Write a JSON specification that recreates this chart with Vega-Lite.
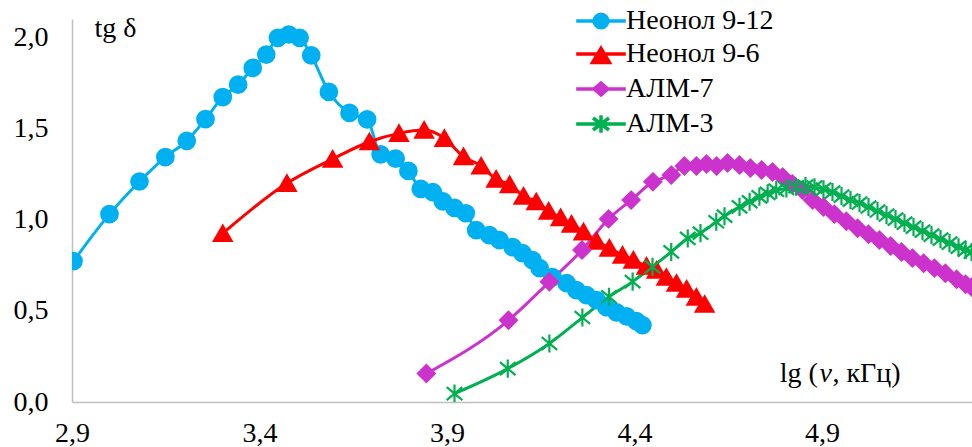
{
  "$schema": "https://vega.github.io/schema/vega-lite/v6.json",
  "width": 900,
  "height": 383,
  "autosize": {"type": "none"},
  "padding": {"left": 72, "top": 19, "right": 0, "bottom": 45},
  "background": "#ffffff",
  "config": {"view": {"stroke": null}, "font": "Liberation Serif, Times New Roman, DejaVu Serif, serif"},
  "data": {"values": [
    {"s": "Неонол 9-12", "x": 2.904, "y": 0.773},
    {"s": "Неонол 9-12", "x": 3.0, "y": 1.03},
    {"s": "Неонол 9-12", "x": 3.08, "y": 1.209},
    {"s": "Неонол 9-12", "x": 3.149, "y": 1.343},
    {"s": "Неонол 9-12", "x": 3.206, "y": 1.432},
    {"s": "Неонол 9-12", "x": 3.256, "y": 1.551},
    {"s": "Неонол 9-12", "x": 3.302, "y": 1.672},
    {"s": "Неонол 9-12", "x": 3.343, "y": 1.74},
    {"s": "Неонол 9-12", "x": 3.382, "y": 1.832},
    {"s": "Неонол 9-12", "x": 3.418, "y": 1.905},
    {"s": "Неонол 9-12", "x": 3.449, "y": 1.997},
    {"s": "Неонол 9-12", "x": 3.478, "y": 2.015},
    {"s": "Неонол 9-12", "x": 3.507, "y": 1.997},
    {"s": "Неонол 9-12", "x": 3.538, "y": 1.9},
    {"s": "Неонол 9-12", "x": 3.585, "y": 1.7},
    {"s": "Неонол 9-12", "x": 3.64, "y": 1.585},
    {"s": "Неонол 9-12", "x": 3.687, "y": 1.55},
    {"s": "Неонол 9-12", "x": 3.723, "y": 1.358},
    {"s": "Неонол 9-12", "x": 3.763, "y": 1.334},
    {"s": "Неонол 9-12", "x": 3.797, "y": 1.267},
    {"s": "Неонол 9-12", "x": 3.83, "y": 1.169},
    {"s": "Неонол 9-12", "x": 3.862, "y": 1.151},
    {"s": "Неонол 9-12", "x": 3.889, "y": 1.1},
    {"s": "Неонол 9-12", "x": 3.92, "y": 1.064},
    {"s": "Неонол 9-12", "x": 3.95, "y": 1.035},
    {"s": "Неонол 9-12", "x": 3.978, "y": 0.942},
    {"s": "Неонол 9-12", "x": 4.013, "y": 0.915},
    {"s": "Неонол 9-12", "x": 4.04, "y": 0.888},
    {"s": "Неонол 9-12", "x": 4.075, "y": 0.849},
    {"s": "Неонол 9-12", "x": 4.101, "y": 0.816},
    {"s": "Неонол 9-12", "x": 4.128, "y": 0.778},
    {"s": "Неонол 9-12", "x": 4.147, "y": 0.734},
    {"s": "Неонол 9-12", "x": 4.181, "y": 0.685},
    {"s": "Неонол 9-12", "x": 4.219, "y": 0.652},
    {"s": "Неонол 9-12", "x": 4.245, "y": 0.613},
    {"s": "Неонол 9-12", "x": 4.272, "y": 0.586},
    {"s": "Неонол 9-12", "x": 4.299, "y": 0.558},
    {"s": "Неонол 9-12", "x": 4.325, "y": 0.52},
    {"s": "Неонол 9-12", "x": 4.352, "y": 0.492},
    {"s": "Неонол 9-12", "x": 4.379, "y": 0.47},
    {"s": "Неонол 9-12", "x": 4.405, "y": 0.443},
    {"s": "Неонол 9-12", "x": 4.421, "y": 0.421},

    {"s": "Неонол 9-6", "x": 3.302, "y": 0.924},
    {"s": "Неонол 9-6", "x": 3.473, "y": 1.199},
    {"s": "Неонол 9-6", "x": 3.595, "y": 1.332},
    {"s": "Неонол 9-6", "x": 3.693, "y": 1.427},
    {"s": "Неонол 9-6", "x": 3.772, "y": 1.473},
    {"s": "Неонол 9-6", "x": 3.839, "y": 1.491},
    {"s": "Неонол 9-6", "x": 3.893, "y": 1.446},
    {"s": "Неонол 9-6", "x": 3.944, "y": 1.345},
    {"s": "Неонол 9-6", "x": 3.991, "y": 1.294},
    {"s": "Неонол 9-6", "x": 4.031, "y": 1.222},
    {"s": "Неонол 9-6", "x": 4.067, "y": 1.192},
    {"s": "Неонол 9-6", "x": 4.104, "y": 1.129},
    {"s": "Неонол 9-6", "x": 4.138, "y": 1.098},
    {"s": "Неонол 9-6", "x": 4.171, "y": 1.047},
    {"s": "Неонол 9-6", "x": 4.203, "y": 1.011},
    {"s": "Неонол 9-6", "x": 4.232, "y": 0.975},
    {"s": "Неонол 9-6", "x": 4.264, "y": 0.933},
    {"s": "Неонол 9-6", "x": 4.299, "y": 0.882},
    {"s": "Неонол 9-6", "x": 4.333, "y": 0.844},
    {"s": "Неонол 9-6", "x": 4.368, "y": 0.805},
    {"s": "Неонол 9-6", "x": 4.397, "y": 0.778},
    {"s": "Неонол 9-6", "x": 4.432, "y": 0.745},
    {"s": "Неонол 9-6", "x": 4.459, "y": 0.723},
    {"s": "Неонол 9-6", "x": 4.485, "y": 0.684},
    {"s": "Неонол 9-6", "x": 4.512, "y": 0.651},
    {"s": "Неонол 9-6", "x": 4.539, "y": 0.619},
    {"s": "Неонол 9-6", "x": 4.565, "y": 0.575},
    {"s": "Неонол 9-6", "x": 4.587, "y": 0.536},

    {"s": "АЛМ-7", "x": 3.845, "y": 0.156},
    {"s": "АЛМ-7", "x": 4.064, "y": 0.448},
    {"s": "АЛМ-7", "x": 4.173, "y": 0.659},
    {"s": "АЛМ-7", "x": 4.26, "y": 0.833},
    {"s": "АЛМ-7", "x": 4.331, "y": 1.004},
    {"s": "АЛМ-7", "x": 4.391, "y": 1.107},
    {"s": "АЛМ-7", "x": 4.449, "y": 1.207},
    {"s": "АЛМ-7", "x": 4.498, "y": 1.244},
    {"s": "АЛМ-7", "x": 4.533, "y": 1.294},
    {"s": "АЛМ-7", "x": 4.565, "y": 1.294},
    {"s": "АЛМ-7", "x": 4.592, "y": 1.305},
    {"s": "АЛМ-7", "x": 4.619, "y": 1.294},
    {"s": "АЛМ-7", "x": 4.648, "y": 1.31},
    {"s": "АЛМ-7", "x": 4.68, "y": 1.299},
    {"s": "АЛМ-7", "x": 4.709, "y": 1.283},
    {"s": "АЛМ-7", "x": 4.739, "y": 1.272},
    {"s": "АЛМ-7", "x": 4.768, "y": 1.261},
    {"s": "АЛМ-7", "x": 4.795, "y": 1.233},
    {"s": "АЛМ-7", "x": 4.821, "y": 1.195},
    {"s": "АЛМ-7", "x": 4.848, "y": 1.162},
    {"s": "АЛМ-7", "x": 4.875, "y": 1.107},
    {"s": "АЛМ-7", "x": 4.904, "y": 1.069},
    {"s": "АЛМ-7", "x": 4.933, "y": 1.03},
    {"s": "АЛМ-7", "x": 4.965, "y": 0.991},
    {"s": "АЛМ-7", "x": 4.995, "y": 0.953},
    {"s": "АЛМ-7", "x": 5.024, "y": 0.92},
    {"s": "АЛМ-7", "x": 5.053, "y": 0.888},
    {"s": "АЛМ-7", "x": 5.083, "y": 0.855},
    {"s": "АЛМ-7", "x": 5.112, "y": 0.822},
    {"s": "АЛМ-7", "x": 5.141, "y": 0.789},
    {"s": "АЛМ-7", "x": 5.171, "y": 0.761},
    {"s": "АЛМ-7", "x": 5.2, "y": 0.734},
    {"s": "АЛМ-7", "x": 5.229, "y": 0.706},
    {"s": "АЛМ-7", "x": 5.259, "y": 0.673},
    {"s": "АЛМ-7", "x": 5.283, "y": 0.646},
    {"s": "АЛМ-7", "x": 5.299, "y": 0.63},

    {"s": "АЛМ-3", "x": 3.92, "y": 0.046},
    {"s": "АЛМ-3", "x": 4.062, "y": 0.183},
    {"s": "АЛМ-3", "x": 4.173, "y": 0.321},
    {"s": "АЛМ-3", "x": 4.261, "y": 0.463},
    {"s": "АЛМ-3", "x": 4.332, "y": 0.577},
    {"s": "АЛМ-3", "x": 4.395, "y": 0.66},
    {"s": "АЛМ-3", "x": 4.448, "y": 0.741},
    {"s": "АЛМ-3", "x": 4.498, "y": 0.823},
    {"s": "АЛМ-3", "x": 4.542, "y": 0.897},
    {"s": "АЛМ-3", "x": 4.576, "y": 0.926},
    {"s": "АЛМ-3", "x": 4.618, "y": 0.988},
    {"s": "АЛМ-3", "x": 4.64, "y": 1.019},
    {"s": "АЛМ-3", "x": 4.68, "y": 1.07},
    {"s": "АЛМ-3", "x": 4.707, "y": 1.098},
    {"s": "АЛМ-3", "x": 4.733, "y": 1.125},
    {"s": "АЛМ-3", "x": 4.755, "y": 1.144},
    {"s": "АЛМ-3", "x": 4.778, "y": 1.162},
    {"s": "АЛМ-3", "x": 4.805, "y": 1.171},
    {"s": "АЛМ-3", "x": 4.831, "y": 1.18},
    {"s": "АЛМ-3", "x": 4.856, "y": 1.184},
    {"s": "АЛМ-3", "x": 4.88, "y": 1.178},
    {"s": "АЛМ-3", "x": 4.904, "y": 1.167},
    {"s": "АЛМ-3", "x": 4.928, "y": 1.151},
    {"s": "АЛМ-3", "x": 4.952, "y": 1.129},
    {"s": "АЛМ-3", "x": 4.976, "y": 1.107},
    {"s": "АЛМ-3", "x": 5.0, "y": 1.091},
    {"s": "АЛМ-3", "x": 5.024, "y": 1.069},
    {"s": "АЛМ-3", "x": 5.048, "y": 1.047},
    {"s": "АЛМ-3", "x": 5.072, "y": 1.025},
    {"s": "АЛМ-3", "x": 5.096, "y": 1.003},
    {"s": "АЛМ-3", "x": 5.12, "y": 0.981},
    {"s": "АЛМ-3", "x": 5.144, "y": 0.959},
    {"s": "АЛМ-3", "x": 5.168, "y": 0.937},
    {"s": "АЛМ-3", "x": 5.192, "y": 0.915},
    {"s": "АЛМ-3", "x": 5.216, "y": 0.893},
    {"s": "АЛМ-3", "x": 5.24, "y": 0.871},
    {"s": "АЛМ-3", "x": 5.264, "y": 0.849},
    {"s": "АЛМ-3", "x": 5.283, "y": 0.833},
    {"s": "АЛМ-3", "x": 5.299, "y": 0.822}
  ]},
  "layer": [
    {
      "mark": {"type": "line", "interpolate": "monotone", "strokeWidth": 3, "clip": true},
      "encoding": {
        "x": {"field": "x", "type": "quantitative",
          "scale": {"domain": [2.9, 5.3], "nice": false, "zero": false},
          "axis": {"values": [2.9, 3.4, 3.9, 4.4, 4.9], "labelExpr": "replace(format(datum.value, '.1f'), '.', ',')",
            "title": null, "grid": false, "ticks": false, "domainColor": "#BFBFBF", "domainWidth": 1.5,
            "labelFont": "Liberation Serif, Times New Roman, DejaVu Serif, serif", "labelFontSize": 28, "labelColor": "#000000", "labelPadding": 17,
            "labelFlush": false, "labelOverlap": false}},
        "y": {"field": "y", "type": "quantitative",
          "scale": {"domain": [0, 2.1], "nice": false, "zero": true},
          "axis": {"values": [0, 0.5, 1, 1.5, 2], "labelExpr": "replace(format(datum.value, '.1f'), '.', ',')",
            "title": null, "grid": false, "ticks": false, "domainColor": "#BFBFBF", "domainWidth": 1.5,
            "labelFont": "Liberation Serif, Times New Roman, DejaVu Serif, serif", "labelFontSize": 28, "labelColor": "#000000", "labelPadding": 24,
            "labelFlush": false, "labelOverlap": false}},
        "color": {"field": "s", "type": "nominal",
          "scale": {"domain": ["Неонол 9-12", "Неонол 9-6", "АЛМ-7", "АЛМ-3"], "range": ["#00B0F0", "#FF0000", "#CC33CC", "#00B050"]},
          "legend": {"orient": "none", "legendX": 515, "legendY": -12, "title": null, "padding": 0,
            "labelFont": "Liberation Serif, Times New Roman, DejaVu Serif, serif", "labelFontSize": 28, "labelColor": "#000000", "labelLimit": 400,
            "symbolSize": 256, "symbolStrokeWidth": 3.5, "symbolOpacity": 1, "labelOffset": 11, "rowPadding": 5}
        }
      }
    },
    {
      "mark": {"type": "point", "filled": true, "size": 256, "strokeWidth": 3.5, "opacity": 0},
      "encoding": {
        "x": {"field": "x", "type": "quantitative"},
        "y": {"field": "y", "type": "quantitative"},
        "color": {"field": "s", "type": "nominal"},
        "stroke": {"field": "s", "type": "nominal",
          "scale": {"domain": ["Неонол 9-12", "Неонол 9-6", "АЛМ-7", "АЛМ-3"], "range": ["#00B0F0", "#FF0000", "#CC33CC", "#00B050"]},
          "legend": null},
        "shape": {"field": "s", "type": "nominal",
          "scale": {"domain": ["Неонол 9-12", "Неонол 9-6", "АЛМ-7", "АЛМ-3"],
            "range": ["M-3.1,0H3.1M-0.85,0A0.85,0.85 0 1,1 0.85,0A0.85,0.85 0 1,1 -0.85,0Z", "M-3.1,0H3.1M0,-0.7L1.05,1.05L-1.05,1.05Z", "M-3.1,0H3.1M0,-0.75L0.85,0L0,0.75L-0.85,0Z", "M-3.1,0H3.1M0,-1.1V1.1M-1,-0.75L1,0.75M-1,0.75L1,-0.75"]},
          "legend": null}
      }
    },
    {
      "transform": [{"filter": "datum.s === 'Неонол 9-12'"}],
      "mark": {"type": "point", "filled": true, "size": 361, "strokeWidth": 2, "opacity": 1, "clip": true, "color": "#00B0F0", "stroke": "#00B0F0",
        "shape": "M-0.88,0A0.88,0.88 0 1,1 0.88,0A0.88,0.88 0 1,1 -0.88,0Z"},
      "encoding": {"x": {"field": "x", "type": "quantitative"}, "y": {"field": "y", "type": "quantitative"}}
    },
    {
      "transform": [{"filter": "datum.s === 'Неонол 9-6'"}],
      "mark": {"type": "point", "filled": true, "size": 361, "strokeWidth": 2, "opacity": 1, "clip": true, "color": "#FF0000", "stroke": "#FF0000",
        "shape": "M0,-0.85L0.95,0.8L-0.95,0.8Z"},
      "encoding": {"x": {"field": "x", "type": "quantitative"}, "y": {"field": "y", "type": "quantitative"}}
    },
    {
      "transform": [{"filter": "datum.s === 'АЛМ-7'"}],
      "mark": {"type": "point", "filled": true, "size": 361, "strokeWidth": 2, "opacity": 1, "clip": true, "color": "#CC33CC", "stroke": "#CC33CC",
        "shape": "M0,-0.9L0.9,0L0,0.9L-0.9,0Z"},
      "encoding": {"x": {"field": "x", "type": "quantitative"}, "y": {"field": "y", "type": "quantitative"}}
    },
    {
      "transform": [{"filter": "datum.s === 'АЛМ-3'"}],
      "mark": {"type": "point", "filled": true, "size": 361, "strokeWidth": 2.2, "opacity": 1, "clip": true, "color": "#00B050", "stroke": "#00B050",
        "shape": "M0,-0.95V0.95M-0.82,-0.68L0.82,0.68M-0.82,0.68L0.82,-0.68"},
      "encoding": {"x": {"field": "x", "type": "quantitative"}, "y": {"field": "y", "type": "quantitative"}}
    },
    {
      "data": {"values": [{"t": "tg δ"}]},
      "mark": {"type": "text", "font": "Liberation Serif, Times New Roman, DejaVu Serif, serif", "fontSize": 28, "align": "left", "baseline": "alphabetic", "color": "#000000"},
      "encoding": {"x": {"datum": 2.96}, "y": {"datum": 2.0}, "text": {"field": "t"}}
    },
    {
      "data": {"values": [{"t": "lg ("}]},
      "mark": {"type": "text", "font": "Liberation Serif, Times New Roman, DejaVu Serif, serif", "fontSize": 28, "align": "left", "baseline": "alphabetic", "color": "#000000"},
      "encoding": {"x": {"datum": 4.787}, "y": {"datum": 0.11}, "text": {"field": "t"}}
    },
    {
      "data": {"values": [{"t": "ν"}]},
      "mark": {"type": "text", "font": "Liberation Serif, Times New Roman, DejaVu Serif, serif", "fontSize": 28, "fontStyle": "italic", "align": "left", "baseline": "alphabetic", "color": "#000000"},
      "encoding": {"x": {"datum": 4.893}, "y": {"datum": 0.11}, "text": {"field": "t"}}
    },
    {
      "data": {"values": [{"t": ", кГц)"}]},
      "mark": {"type": "text", "font": "Liberation Serif, Times New Roman, DejaVu Serif, serif", "fontSize": 28, "align": "left", "baseline": "alphabetic", "color": "#000000"},
      "encoding": {"x": {"datum": 4.928}, "y": {"datum": 0.11}, "text": {"field": "t"}}
    }
  ]
}
